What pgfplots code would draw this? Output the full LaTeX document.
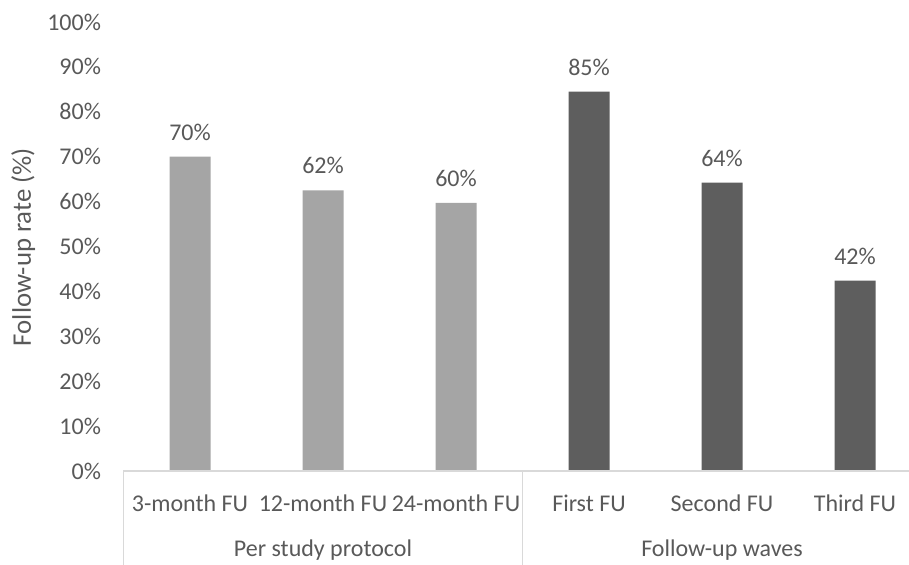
\documentclass[border=0pt]{standalone}
\usepackage{fontspec}
\setmainfont{Carlito}
\usepackage{pgfplots}
\pgfplotsset{compat=1.18}
\definecolor{txt}{HTML}{595959}
\definecolor{lightbar}{HTML}{A5A5A5}
\definecolor{darkbar}{HTML}{5E5E5E}
\definecolor{axisgray}{HTML}{D9D9D9}
\begin{document}
\begin{tikzpicture}
\path[use as bounding box] (0,0) rectangle (454.5pt,282pt);
\begin{axis}[
 at={(61.75pt,46.5pt)}, anchor=south west,
 scale only axis, width=392.75pt, height=224.5pt,
 xmin=-0.5, xmax=5.406, ymin=0, ymax=100,
 axis line style={draw=none},
 ybar, bar width=20.5pt, bar shift=0pt,
 xtick={0,1,2,3,4,5},
 xticklabels={3-month FU,12-month FU,24-month FU,First FU,Second FU,Third FU},
 ytick={0,10,...,100},
 yticklabels={0\%,10\%,20\%,30\%,40\%,50\%,60\%,70\%,80\%,90\%,100\%},
 major tick length=0pt,
 tick label style={font=\fontsize{12}{14}\selectfont, text=txt},
 xticklabel style={anchor=center, yshift=-16.3pt},
 yticklabel style={anchor=east, xshift=-7.75pt},
 clip=false,
 nodes near coords, point meta=explicit symbolic,
 every node near coord/.append style={font=\fontsize{12}{14}\selectfont, text=txt, anchor=center, yshift=12.3pt},
]
\addplot[fill=lightbar, draw=none] coordinates {(0,70)[70\%] (1,62.5)[62\%] (2,59.7)[60\%]};
\addplot[fill=darkbar, draw=none] coordinates {(3,84.5)[85\%] (4,64.2)[64\%] (5,42.4)[42\%]};
\draw[axisgray, line width=0.75pt] (axis cs:-0.5,0) -- (axis cs:5.5,0);
\draw[axisgray, line width=0.75pt] (axis cs:-0.5,0) -- (axis cs:-0.5,-22);
\draw[axisgray, line width=0.75pt] (axis cs:2.5,0) -- (axis cs:2.5,-22);
\node[font=\fontsize{12}{14}\selectfont, text=txt, yshift=-39.5pt] at (axis cs:1,0) {Per study protocol};
\node[font=\fontsize{12}{14}\selectfont, text=txt, yshift=-39.5pt] at (axis cs:4,0) {Follow-up waves};
\end{axis}
\node[rotate=90, font=\fontsize{13.4}{16}\selectfont, text=txt] at (11.6pt,158.5pt) {Follow-up rate (\%)};
\end{tikzpicture}
\end{document}
